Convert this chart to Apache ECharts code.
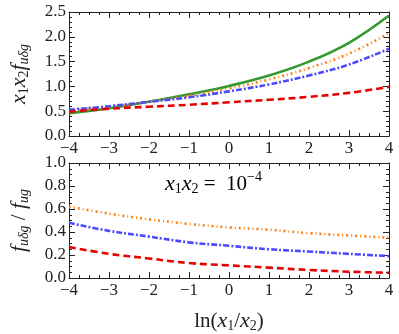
<!DOCTYPE html>
<html>
<head>
<meta charset="utf-8">
<script src="https://cdn.jsdelivr.net/npm/echarts@6/dist/echarts.min.js"></script>
<style>
  html, body { margin: 0; padding: 0; background: #fff; }
  #chart { width: 399px; height: 334px; }
</style>
</head>
<body>
<div id="chart"></div>
<script>
// x grid: ln(x1/x2)
var xs = [-4, -3, -2, -1, 0, 1, 2, 3, 4];

// upper panel: x1 x2 f_{u delta g}
var topGreen  = [0.46, 0.56, 0.69, 0.84, 1.01, 1.22, 1.50, 1.88, 2.43];
var topOrange = [0.52, 0.59, 0.69, 0.81, 0.96, 1.14, 1.37, 1.66, 2.07];
var topBlue   = [0.53, 0.60, 0.69, 0.78, 0.90, 1.04, 1.22, 1.44, 1.76];
var topRed    = [0.49, 0.55, 0.59, 0.63, 0.68, 0.73, 0.79, 0.87, 0.99];

// lower panel: ratio f_{u delta g} / f_{ug}
var botOrange = [0.62, 0.56, 0.51, 0.47, 0.44, 0.42, 0.39, 0.37, 0.35];
var botBlue   = [0.48, 0.41, 0.36, 0.31, 0.28, 0.25, 0.23, 0.21, 0.19];
var botRed    = [0.27, 0.21, 0.17, 0.13, 0.11, 0.09, 0.07, 0.055, 0.045];

(function () {
  var myChart = echarts.init(document.getElementById("chart"));
  var serif = "'Liberation Serif', 'DejaVu Serif', serif";
  var ink = "#222";

  function pairs(arr) {
    return xs.map(function (x, i) { return [x, arr[i]]; });
  }
  function minus(v) {
    return v < 0 ? "\u2212" + (-v) : String(v);
  }

  var rich = {
    i: { fontFamily: serif, fontStyle: "italic", fontSize: 22, color: ink },
    n: { fontFamily: serif, fontSize: 21, color: ink },
    s: { fontFamily: serif, fontStyle: "italic", fontSize: 14, color: ink, padding: [10, 0, 0, 0] },
    sn: { fontFamily: serif, fontSize: 14, color: ink, padding: [10, 0, 0, 0] },
    sup: { fontFamily: serif, fontSize: 14, color: ink, padding: [0, 0, 14, 0] }
  };

  function xAxisFor(grid, pos, labels) {
    return {
      type: "value", gridIndex: grid, position: pos,
      min: -4, max: 4, interval: 1,
      axisLine: { show: true, onZero: false, lineStyle: { color: ink, width: 1 } },
      axisTick: { show: true, inside: true, length: 6, lineStyle: { color: ink } },
      minorTick: { show: true, splitNumber: 4, length: 3, lineStyle: { color: ink } },
      axisLabel: { show: labels, formatter: minus, fontFamily: serif, fontSize: 17, color: ink, margin: 4 },
      splitLine: { show: false }
    };
  }
  function yAxisFor(grid, pos, labels, max, step, minor) {
    return {
      type: "value", gridIndex: grid, position: pos,
      min: 0, max: max, interval: step,
      axisLine: { show: true, onZero: false, lineStyle: { color: ink, width: 1 } },
      axisTick: { show: true, inside: true, length: 6, lineStyle: { color: ink } },
      minorTick: { show: true, splitNumber: minor, length: 3, lineStyle: { color: ink } },
      axisLabel: { show: labels, formatter: function (v) { return v.toFixed(1); },
        fontFamily: serif, fontSize: 17, color: ink, margin: 3 },
      splitLine: { show: false }
    };
  }

  function line(name, data, xi, yi, color, type) {
    return {
      name: name, type: "line", xAxisIndex: xi, yAxisIndex: yi,
      data: pairs(data), smooth: 0.4, symbol: "none",
      lineStyle: { color: color, width: 2.6, type: type }
    };
  }

  var green = "#33992e", orange = "#ff7f0e", blue = "#4a4aff", red = "#e60000";

  var yTop = yAxisFor(0, "left", true, 2.5, 0.5, 5);
  yTop.name = "{i|x}{sn|1}{i|x}{sn|2}{i|f}{s|u\u03b4g}";
  yTop.nameLocation = "middle";
  yTop.nameRotate = 90;
  yTop.nameGap = 38;
  yTop.nameTextStyle = { rich: rich };

  var yBot = yAxisFor(1, "left", true, 1.0, 0.2, 4);
  yBot.name = "{i|f}{s|u\u03b4g}{n| / }{i|f}{s|ug}";
  yBot.nameLocation = "middle";
  yBot.nameRotate = 90;
  yBot.nameGap = 38;
  yBot.nameTextStyle = { rich: rich };

  var xBot = xAxisFor(1, "bottom", true);
  xBot.name = "{n|ln(}{i|x}{sn|1}{n|/}{i|x}{sn|2}{n|)}";
  xBot.nameLocation = "middle";
  xBot.nameGap = 31;
  xBot.nameTextStyle = { rich: rich };

  option = {
    animation: false,
    backgroundColor: "#fff",
    grid: [
      { left: 53, right: 10, top: 12, height: 124 },
      { left: 53, right: 10, top: 163, height: 123 }
    ],
    xAxis: [
      xAxisFor(0, "bottom", true),
      xAxisFor(0, "top", false),
      xBot,
      xAxisFor(1, "top", false)
    ],
    yAxis: [
      yTop,
      yAxisFor(0, "right", false, 2.5, 0.5, 5),
      yBot,
      yAxisFor(1, "right", false, 1.0, 0.2, 4)
    ],
    graphic: [
      {
        type: "text", left: 165, top: 170,
        style: { text: "{i|x}{sn|1}{i|x}{sn|2}{n| =  10}{sup|\u22124}", rich: rich }
      }
    ],
    series: [
      line("green", topGreen, 0, 0, green, "solid"),
      line("orange", topOrange, 0, 0, orange, [2, 3, 1, 3]),
      line("blue", topBlue, 0, 0, blue, [6, 2, 2, 2]),
      line("red", topRed, 0, 0, red, [7, 4]),
      line("orange2", botOrange, 2, 2, orange, [2, 3, 1, 3]),
      line("blue2", botBlue, 2, 2, blue, [6, 2, 2, 2]),
      line("red2", botRed, 2, 2, red, [7, 4])
    ]
  };
  myChart.setOption(option);
  window.addEventListener("resize", function () {
    myChart.resize();
  });
})();
</script>
</body>
</html>
